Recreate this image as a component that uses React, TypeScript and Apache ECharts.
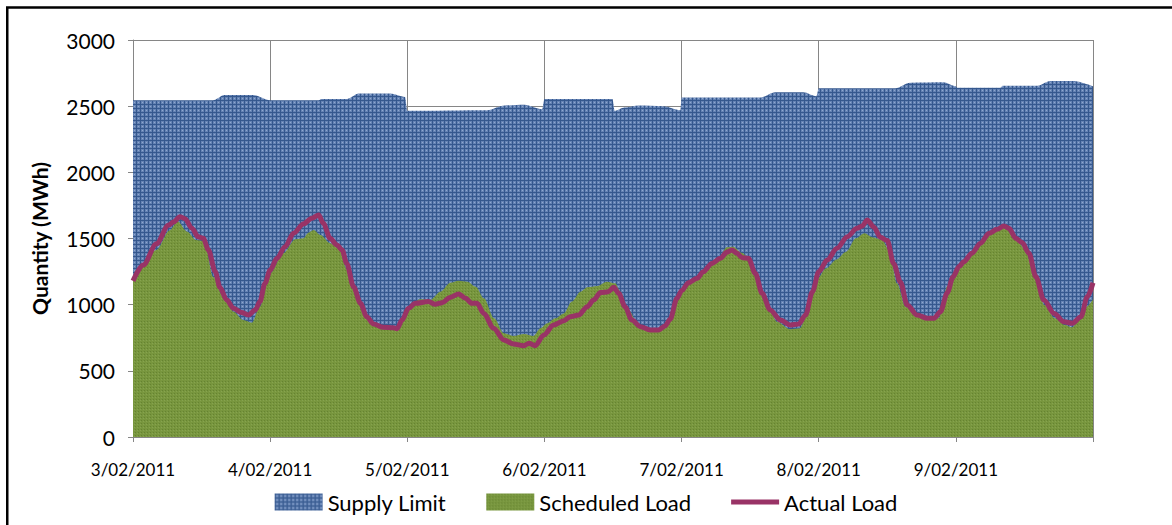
import React, { useEffect, useRef } from 'react';
import * as echarts from 'echarts';

// x values are hours since 3/02/2011 00:00
const dayLabels = ['3/02/2011', '4/02/2011', '5/02/2011', '6/02/2011', '7/02/2011', '8/02/2011', '9/02/2011'];

const supplyLimit: [number, number][] = [
  [0, 2545], [14, 2545], [16, 2585], [21, 2585], [24, 2545], [32.5, 2545], [33, 2555], [37.5, 2555],
  [39.5, 2595], [45, 2595], [47.6, 2570], [48, 2465], [62, 2470], [65, 2505], [68.5, 2510], [71.6, 2476],
  [72, 2555], [83.9, 2555], [84.3, 2465], [86, 2490], [88.5, 2505], [92.8, 2500], [95.8, 2470], [96, 2565],
  [109.8, 2565], [112.4, 2605], [117.3, 2605], [119.6, 2575], [120, 2635], [133.4, 2635], [136, 2677],
  [141.8, 2680], [144, 2650], [144.2, 2640], [151.8, 2640], [152.2, 2655], [158.3, 2655], [160.5, 2690],
  [164.6, 2690], [168, 2650],
];

const scheduledLoad: [number, number][] = [
  [0, 1180], [4.1, 1413], [6.4, 1560], [7.8, 1630], [9.5, 1551], [11, 1489], [12.5, 1480], [14, 1211],
  [15.8, 1060], [17.6, 947], [19.3, 884], [20.8, 864], [22.2, 985], [24, 1237], [26.3, 1388], [28.4, 1494],
  [29.8, 1501], [30.7, 1544], [31.6, 1564], [32.8, 1526], [34.5, 1464], [36, 1426], [37.5, 1262], [39.2, 1060],
  [40.9, 897], [42.7, 834], [45, 809], [46.2, 809], [47.9, 934], [48.5, 997], [50.2, 1040], [52, 1035],
  [53.8, 1098], [55.5, 1166], [57, 1181], [58.5, 1174], [60, 1136], [61.4, 1048], [63.2, 897], [64.9, 784],
  [66.6, 763], [68.4, 778], [70.1, 763], [71.3, 821], [72.5, 859], [73.9, 897], [75.4, 934], [76.8, 1023],
  [78.3, 1098], [79.5, 1131], [81.2, 1141], [82.9, 1174], [84.4, 1161], [85.3, 1098], [86.7, 960], [88.5, 846],
  [90.5, 803], [92.2, 803], [93.4, 859], [95.2, 1035], [96.9, 1150], [99.1, 1224], [100.8, 1287], [102.5, 1350],
  [103.9, 1433], [105.1, 1438], [106.5, 1393], [107.9, 1350], [109.3, 1199], [111, 1010], [112.7, 871],
  [115, 814], [116.7, 821], [117.9, 922], [119.6, 1186], [121.3, 1275], [123.1, 1342], [124.8, 1400],
  [126.5, 1501], [128, 1539], [129.4, 1509], [131.1, 1489], [132.3, 1413], [133.7, 1161], [135.2, 985],
  [137, 922], [139.3, 884], [141, 900], [142.5, 1140], [143.7, 1249], [145.5, 1325], [147.9, 1438],
  [149.6, 1519], [151.4, 1577], [152.5, 1584], [154.3, 1514], [156, 1426], [157.8, 1224], [159.5, 997],
  [161.3, 897], [163.1, 846], [164.3, 829], [165.7, 884], [166.9, 985], [168, 1040],
];

const actualLoad: [number, number][] = [
  [0, 1180], [1.8, 1300], [4.1, 1460], [6.2, 1600], [7.1, 1625], [8.2, 1665], [9.1, 1650], [10.3, 1577],
  [11.4, 1514], [12.3, 1502], [13.2, 1413], [14.4, 1249], [15.2, 1131], [16.4, 1035], [17.6, 972], [19, 940],
  [20.2, 922], [21.4, 960], [22.2, 1023], [23.1, 1161], [24, 1262], [25.2, 1350], [26.6, 1438], [28.1, 1539],
  [29.8, 1610], [31.3, 1653], [32.5, 1678], [33.3, 1615], [34.5, 1501], [35.7, 1451], [36.6, 1413],
  [37.4, 1312], [38.6, 1136], [39.8, 1010], [40.9, 909], [42.1, 854], [43.8, 829], [45.6, 826], [46.2, 818],
  [47.1, 884], [48.2, 972], [49.4, 1010], [51.7, 1023], [52.9, 1003], [54.1, 1015], [55.5, 1055], [57, 1081],
  [58.2, 1048], [59.3, 1010], [60.2, 1010], [61.4, 934], [63.1, 821], [64.9, 733], [66.6, 703], [68.4, 690],
  [69.3, 708], [70.4, 690], [71.9, 771], [73.6, 846], [75.4, 879], [76.5, 909], [78, 922], [79.5, 985],
  [80.6, 1035], [81.8, 1091], [83.2, 1098], [84.1, 1131], [85, 1086], [86.1, 985], [87.3, 884], [88.8, 834],
  [90.5, 809], [92, 809], [93.1, 839], [94, 890], [95.2, 1048], [96, 1105], [97.2, 1165], [98.7, 1199],
  [99.8, 1249], [101.3, 1312], [102.8, 1350], [103.9, 1396], [104.8, 1413], [105.7, 1388], [106.6, 1355],
  [107.7, 1350], [108.9, 1237], [110.1, 1086], [111.5, 960], [113.3, 884], [115, 846], [116.5, 854],
  [117.7, 922], [118.9, 1098], [120, 1249], [121.5, 1338], [123.2, 1426], [125, 1514], [126.7, 1577],
  [127.6, 1594], [128.5, 1640], [129.6, 1589], [130.8, 1509], [132, 1484], [133.1, 1312], [134.3, 1170],
  [135.5, 997], [137.2, 922], [139, 897], [140.2, 897], [141.3, 947], [142.5, 1090], [143.5, 1210],
  [144.6, 1290], [145.4, 1325], [146.8, 1388], [148.3, 1464], [149.8, 1539], [151.2, 1569], [152.4, 1594],
  [153.3, 1577], [154.5, 1501], [155.6, 1469], [156.8, 1388], [158, 1211], [159.4, 1035], [161.2, 934],
  [162.9, 871], [164.4, 859], [165.9, 909], [167, 1060], [168, 1166],
];

const FONT = 'Lato, "Open Sans", sans-serif';

function makePattern(size: number, draw: (ctx: CanvasRenderingContext2D) => void, fallback: string): any {
  try {
    const c = document.createElement('canvas');
    c.width = size;
    c.height = size;
    const ctx = c.getContext('2d');
    if (!ctx) return fallback;
    draw(ctx);
    return { image: c, repeat: 'repeat', imageWidth: size, imageHeight: size };
  } catch (e) {
    return fallback;
  }
}

export default function App() {
  const ref = useRef<HTMLDivElement>(null);

  useEffect(() => {
    if (!ref.current) return;
    const chart = echarts.init(ref.current, undefined, { renderer: 'svg' });

    const bluePattern = makePattern(4, (ctx) => {
      ctx.fillStyle = '#6583b4';
      ctx.fillRect(0, 0, 4, 4);
      ctx.fillStyle = '#35588e';
      ctx.fillRect(0, 0, 4, 1);
      ctx.fillRect(0, 0, 1, 4);
      ctx.fillStyle = '#8fa8cf';
      ctx.fillRect(2, 2, 1, 1);
    }, '#5677a8');

    const greenPattern = makePattern(3, (ctx) => {
      ctx.fillStyle = '#78963e';
      ctx.fillRect(0, 0, 3, 3);
      ctx.fillStyle = '#658331';
      ctx.fillRect(0, 0, 1, 1);
      ctx.fillStyle = '#86a34f';
      ctx.fillRect(2, 1, 1, 1);
    }, '#78963e');

    const option: any = {
      animation: false,
      backgroundColor: '#ffffff',
      grid: { left: 133, right: 79, top: 40, bottom: 88, containLabel: false },
      xAxis: {
        type: 'value',
        min: 0,
        max: 168,
        interval: 24,
        axisLine: { show: true, lineStyle: { color: '#868686', width: 1 } },
        axisTick: { show: true, length: 5, lineStyle: { color: '#868686' } },
        splitLine: { show: true, lineStyle: { color: '#868686', width: 1 } },
        axisLabel: {
          fontFamily: FONT,
          fontSize: 17,
          color: '#000',
          margin: 24,
          formatter: (v: number) => {
            const i = Math.round(v / 24);
            return i < dayLabels.length ? dayLabels[i] : '';
          },
        },
      },
      yAxis: {
        type: 'value',
        min: 0,
        max: 3000,
        interval: 500,
        name: 'Quantity (MWh)',
        nameLocation: 'middle',
        nameGap: 83,
        nameTextStyle: { fontFamily: FONT, fontSize: 21, fontWeight: 'bold', color: '#000' },
        axisLine: { show: true, lineStyle: { color: '#868686', width: 1 } },
        axisTick: { show: true, length: 5, lineStyle: { color: '#868686' } },
        splitLine: { show: true, lineStyle: { color: '#868686', width: 1 } },
        axisLabel: {
          fontFamily: FONT,
          fontSize: 21,
          color: '#000',
          margin: 18,
          formatter: (v: number) => String(v),
        },
      },
      legend: {
        left: 'center',
        top: 486,
        itemGap: 40,
        itemWidth: 48,
        itemHeight: 17,
        textStyle: { fontFamily: FONT, fontSize: 22, color: '#000' },
        data: [
          { name: 'Supply Limit', icon: 'rect', itemStyle: { color: bluePattern } },
          { name: 'Scheduled Load', icon: 'rect', itemStyle: { color: greenPattern } },
          { name: 'Actual Load', icon: 'path://M0,0H50V5H0Z', itemStyle: { color: '#993366' } },
        ],
      },
      series: [
        {
          name: 'Supply Limit',
          type: 'line',
          data: supplyLimit,
          symbol: 'none',
          smooth: 0.3,
          smoothMonotone: 'x',
          lineStyle: { width: 0, color: '#4f6f9f' },
          itemStyle: { color: '#4f6f9f' },
          areaStyle: { color: bluePattern, opacity: 1 },
          z: 1,
        },
        {
          name: 'Scheduled Load',
          type: 'line',
          data: scheduledLoad,
          symbol: 'none',
          smooth: 0.3,
          smoothMonotone: 'x',
          lineStyle: { width: 0, color: '#77943d' },
          itemStyle: { color: '#77943d' },
          areaStyle: { color: greenPattern, opacity: 1 },
          z: 2,
        },
        {
          name: 'Actual Load',
          type: 'line',
          data: actualLoad,
          symbol: 'none',
          smooth: 0.3,
          smoothMonotone: 'x',
          lineStyle: { width: 5, color: '#993366' },
          itemStyle: { color: '#993366' },
          z: 3,
        },
      ],
      graphic: [
        {
          type: 'rect',
          shape: { x: 7.25, y: 7.5, width: 1200, height: 560 },
          style: { fill: 'none', stroke: '#000', lineWidth: 2.5 },
          silent: true,
          z: 100,
        },
      ],
    };

    chart.setOption(option);
    return () => chart.dispose();
  }, []);

  return (
    <div
      ref={ref}
      style={{ position: 'absolute', left: 0, top: 0, width: 1172, height: 525, background: '#fff' }}
    />
  );
}
